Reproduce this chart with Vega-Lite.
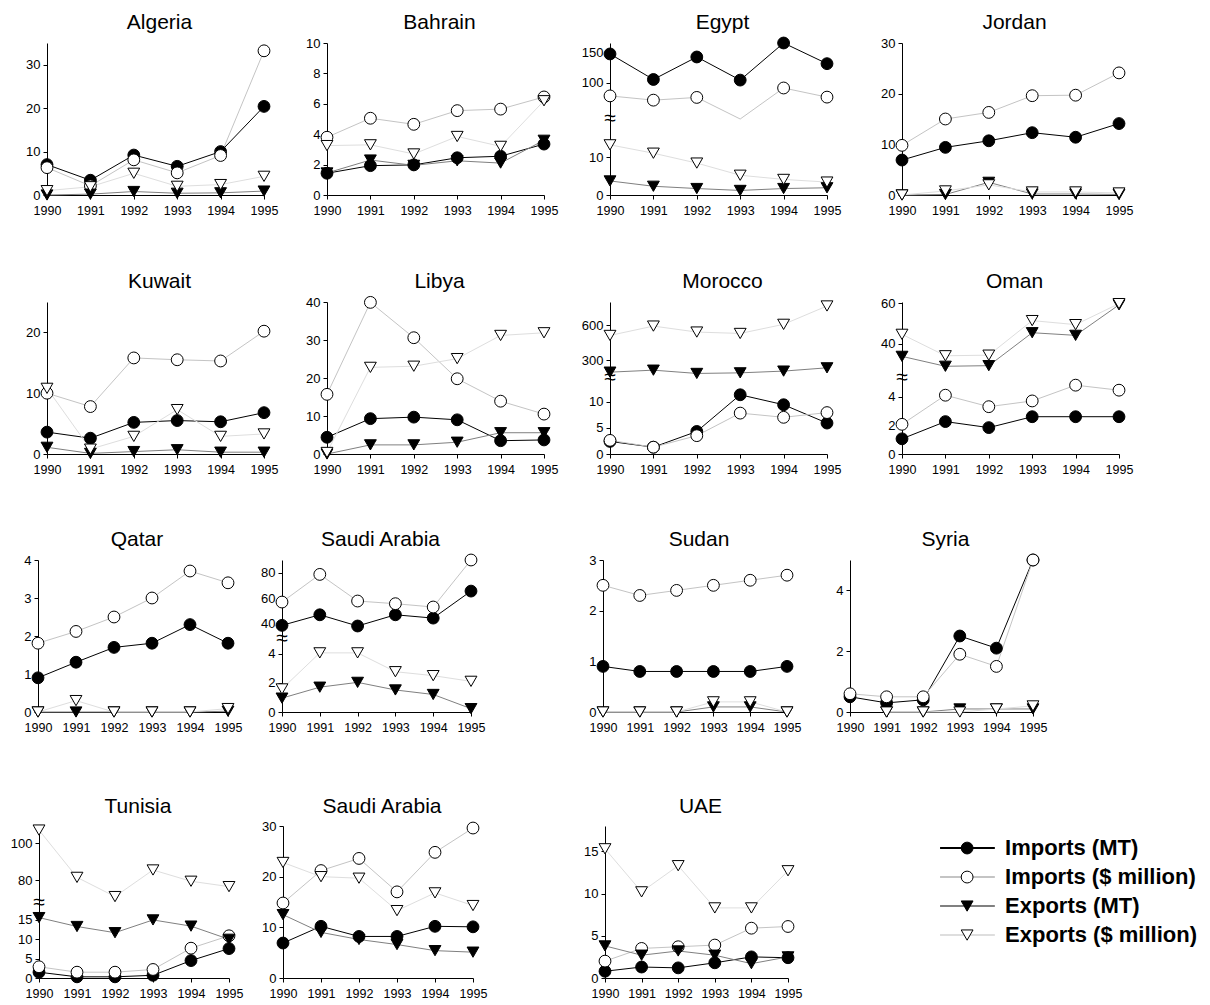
{
"$schema": "https://vega.github.io/schema/vega-lite/v6.json",
"padding": {"top": 11, "left": 0, "right": 0, "bottom": 0},
"spacing": 61,
"data": {"values": [
{"p":"Algeria","s":"im","yr":1990,"v":7},{"p":"Algeria","s":"im","yr":1991,"v":3.4},{"p":"Algeria","s":"im","yr":1992,"v":9.2},{"p":"Algeria","s":"im","yr":1993,"v":6.6},{"p":"Algeria","s":"im","yr":1994,"v":10},{"p":"Algeria","s":"im","yr":1995,"v":20.4},
{"p":"Algeria","s":"id","yr":1990,"v":6.3},{"p":"Algeria","s":"id","yr":1991,"v":2.1},{"p":"Algeria","s":"id","yr":1992,"v":8.1},{"p":"Algeria","s":"id","yr":1993,"v":5.1},{"p":"Algeria","s":"id","yr":1994,"v":9.1},{"p":"Algeria","s":"id","yr":1995,"v":33.2},
{"p":"Algeria","s":"em","yr":1990,"v":0},{"p":"Algeria","s":"em","yr":1991,"v":0.2},{"p":"Algeria","s":"em","yr":1992,"v":0.8},{"p":"Algeria","s":"em","yr":1993,"v":0.4},{"p":"Algeria","s":"em","yr":1994,"v":0.5},{"p":"Algeria","s":"em","yr":1995,"v":0.9},
{"p":"Algeria","s":"ed","yr":1990,"v":1},{"p":"Algeria","s":"ed","yr":1991,"v":1.9},{"p":"Algeria","s":"ed","yr":1992,"v":5},{"p":"Algeria","s":"ed","yr":1993,"v":2},{"p":"Algeria","s":"ed","yr":1994,"v":2.4},{"p":"Algeria","s":"ed","yr":1995,"v":4.3},
{"p":"Bahrain","s":"im","yr":1990,"v":1.43},{"p":"Bahrain","s":"im","yr":1991,"v":1.93},{"p":"Bahrain","s":"im","yr":1992,"v":1.98},{"p":"Bahrain","s":"im","yr":1993,"v":2.45},{"p":"Bahrain","s":"im","yr":1994,"v":2.55},{"p":"Bahrain","s":"im","yr":1995,"v":3.35},
{"p":"Bahrain","s":"id","yr":1990,"v":3.8},{"p":"Bahrain","s":"id","yr":1991,"v":5.05},{"p":"Bahrain","s":"id","yr":1992,"v":4.65},{"p":"Bahrain","s":"id","yr":1993,"v":5.55},{"p":"Bahrain","s":"id","yr":1994,"v":5.65},{"p":"Bahrain","s":"id","yr":1995,"v":6.45},
{"p":"Bahrain","s":"em","yr":1990,"v":1.45},{"p":"Bahrain","s":"em","yr":1991,"v":2.3},{"p":"Bahrain","s":"em","yr":1992,"v":1.95},{"p":"Bahrain","s":"em","yr":1993,"v":2.25},{"p":"Bahrain","s":"em","yr":1994,"v":2.1},{"p":"Bahrain","s":"em","yr":1995,"v":3.6},
{"p":"Bahrain","s":"ed","yr":1990,"v":3.25},{"p":"Bahrain","s":"ed","yr":1991,"v":3.3},{"p":"Bahrain","s":"ed","yr":1992,"v":2.7},{"p":"Bahrain","s":"ed","yr":1993,"v":3.85},{"p":"Bahrain","s":"ed","yr":1994,"v":3.2},{"p":"Bahrain","s":"ed","yr":1995,"v":6.2},
{"p":"Egypt","s":"im","yr":1990,"v":147},{"p":"Egypt","s":"im","yr":1991,"v":105},{"p":"Egypt","s":"im","yr":1992,"v":142},{"p":"Egypt","s":"im","yr":1993,"v":104},{"p":"Egypt","s":"im","yr":1994,"v":165},{"p":"Egypt","s":"im","yr":1995,"v":131},
{"p":"Egypt","s":"id","yr":1990,"v":78},{"p":"Egypt","s":"id","yr":1991,"v":71},{"p":"Egypt","s":"id","yr":1992,"v":75.5},{"p":"Egypt","s":"id","yr":1993,"v":38},{"p":"Egypt","s":"id","yr":1994,"v":91},{"p":"Egypt","s":"id","yr":1995,"v":76},
{"p":"Egypt","s":"em","yr":1990,"v":3.7},{"p":"Egypt","s":"em","yr":1991,"v":2.3},{"p":"Egypt","s":"em","yr":1992,"v":1.7},{"p":"Egypt","s":"em","yr":1993,"v":1.2},{"p":"Egypt","s":"em","yr":1994,"v":1.7},{"p":"Egypt","s":"em","yr":1995,"v":1.9},
{"p":"Egypt","s":"ed","yr":1990,"v":13.2},{"p":"Egypt","s":"ed","yr":1991,"v":11},{"p":"Egypt","s":"ed","yr":1992,"v":8.4},{"p":"Egypt","s":"ed","yr":1993,"v":5.2},{"p":"Egypt","s":"ed","yr":1994,"v":4.1},{"p":"Egypt","s":"ed","yr":1995,"v":3.4},
{"p":"Jordan","s":"im","yr":1990,"v":6.9},{"p":"Jordan","s":"im","yr":1991,"v":9.4},{"p":"Jordan","s":"im","yr":1992,"v":10.7},{"p":"Jordan","s":"im","yr":1993,"v":12.3},{"p":"Jordan","s":"im","yr":1994,"v":11.4},{"p":"Jordan","s":"im","yr":1995,"v":14.1},
{"p":"Jordan","s":"id","yr":1990,"v":9.8},{"p":"Jordan","s":"id","yr":1991,"v":15},{"p":"Jordan","s":"id","yr":1992,"v":16.3},{"p":"Jordan","s":"id","yr":1993,"v":19.6},{"p":"Jordan","s":"id","yr":1994,"v":19.7},{"p":"Jordan","s":"id","yr":1995,"v":24.1},
{"p":"Jordan","s":"em","yr":1990,"v":0},{"p":"Jordan","s":"em","yr":1991,"v":0.1},{"p":"Jordan","s":"em","yr":1992,"v":2.5},{"p":"Jordan","s":"em","yr":1993,"v":0.2},{"p":"Jordan","s":"em","yr":1994,"v":0.2},{"p":"Jordan","s":"em","yr":1995,"v":0.1},
{"p":"Jordan","s":"ed","yr":1990,"v":0},{"p":"Jordan","s":"ed","yr":1991,"v":0.8},{"p":"Jordan","s":"ed","yr":1992,"v":2},{"p":"Jordan","s":"ed","yr":1993,"v":0.6},{"p":"Jordan","s":"ed","yr":1994,"v":0.6},{"p":"Jordan","s":"ed","yr":1995,"v":0.4},
{"p":"Kuwait","s":"im","yr":1990,"v":3.6},{"p":"Kuwait","s":"im","yr":1991,"v":2.6},{"p":"Kuwait","s":"im","yr":1992,"v":5.2},{"p":"Kuwait","s":"im","yr":1993,"v":5.5},{"p":"Kuwait","s":"im","yr":1994,"v":5.3},{"p":"Kuwait","s":"im","yr":1995,"v":6.8},
{"p":"Kuwait","s":"id","yr":1990,"v":10},{"p":"Kuwait","s":"id","yr":1991,"v":7.8},{"p":"Kuwait","s":"id","yr":1992,"v":15.8},{"p":"Kuwait","s":"id","yr":1993,"v":15.5},{"p":"Kuwait","s":"id","yr":1994,"v":15.3},{"p":"Kuwait","s":"id","yr":1995,"v":20.2},
{"p":"Kuwait","s":"em","yr":1990,"v":1.1},{"p":"Kuwait","s":"em","yr":1991,"v":0.1},{"p":"Kuwait","s":"em","yr":1992,"v":0.4},{"p":"Kuwait","s":"em","yr":1993,"v":0.7},{"p":"Kuwait","s":"em","yr":1994,"v":0.3},{"p":"Kuwait","s":"em","yr":1995,"v":0.3},
{"p":"Kuwait","s":"ed","yr":1990,"v":10.8},{"p":"Kuwait","s":"ed","yr":1991,"v":0.8},{"p":"Kuwait","s":"ed","yr":1992,"v":2.9},{"p":"Kuwait","s":"ed","yr":1993,"v":7.3},{"p":"Kuwait","s":"ed","yr":1994,"v":2.9},{"p":"Kuwait","s":"ed","yr":1995,"v":3.3},
{"p":"Libya","s":"im","yr":1990,"v":4.4},{"p":"Libya","s":"im","yr":1991,"v":9.3},{"p":"Libya","s":"im","yr":1992,"v":9.7},{"p":"Libya","s":"im","yr":1993,"v":9},{"p":"Libya","s":"im","yr":1994,"v":3.5},{"p":"Libya","s":"im","yr":1995,"v":3.7},
{"p":"Libya","s":"id","yr":1990,"v":15.7},{"p":"Libya","s":"id","yr":1991,"v":39.9},{"p":"Libya","s":"id","yr":1992,"v":30.6},{"p":"Libya","s":"id","yr":1993,"v":19.8},{"p":"Libya","s":"id","yr":1994,"v":13.9},{"p":"Libya","s":"id","yr":1995,"v":10.5},
{"p":"Libya","s":"em","yr":1990,"v":0},{"p":"Libya","s":"em","yr":1991,"v":2.4},{"p":"Libya","s":"em","yr":1992,"v":2.4},{"p":"Libya","s":"em","yr":1993,"v":3.1},{"p":"Libya","s":"em","yr":1994,"v":5.6},{"p":"Libya","s":"em","yr":1995,"v":5.6},
{"p":"Libya","s":"ed","yr":1990,"v":0.4},{"p":"Libya","s":"ed","yr":1991,"v":22.8},{"p":"Libya","s":"ed","yr":1992,"v":23.1},{"p":"Libya","s":"ed","yr":1993,"v":25.1},{"p":"Libya","s":"ed","yr":1994,"v":31.2},{"p":"Libya","s":"ed","yr":1995,"v":31.9},
{"p":"Morocco","s":"im","yr":1990,"v":2.4},{"p":"Morocco","s":"im","yr":1991,"v":1.3},{"p":"Morocco","s":"im","yr":1992,"v":4.3},{"p":"Morocco","s":"im","yr":1993,"v":11.3},{"p":"Morocco","s":"im","yr":1994,"v":9.4},{"p":"Morocco","s":"im","yr":1995,"v":5.9},
{"p":"Morocco","s":"id","yr":1990,"v":2.6},{"p":"Morocco","s":"id","yr":1991,"v":1.3},{"p":"Morocco","s":"id","yr":1992,"v":3.5},{"p":"Morocco","s":"id","yr":1993,"v":7.8},{"p":"Morocco","s":"id","yr":1994,"v":7},{"p":"Morocco","s":"id","yr":1995,"v":7.9},
{"p":"Morocco","s":"em","yr":1990,"v":200},{"p":"Morocco","s":"em","yr":1991,"v":217},{"p":"Morocco","s":"em","yr":1992,"v":189},{"p":"Morocco","s":"em","yr":1993,"v":194},{"p":"Morocco","s":"em","yr":1994,"v":209},{"p":"Morocco","s":"em","yr":1995,"v":237},
{"p":"Morocco","s":"ed","yr":1990,"v":514},{"p":"Morocco","s":"ed","yr":1991,"v":594},{"p":"Morocco","s":"ed","yr":1992,"v":543},{"p":"Morocco","s":"ed","yr":1993,"v":531},{"p":"Morocco","s":"ed","yr":1994,"v":609},{"p":"Morocco","s":"ed","yr":1995,"v":766},
{"p":"Oman","s":"im","yr":1990,"v":1.06},{"p":"Oman","s":"im","yr":1991,"v":2.26},{"p":"Oman","s":"im","yr":1992,"v":1.84},{"p":"Oman","s":"im","yr":1993,"v":2.6},{"p":"Oman","s":"im","yr":1994,"v":2.6},{"p":"Oman","s":"im","yr":1995,"v":2.6},
{"p":"Oman","s":"id","yr":1990,"v":2.07},{"p":"Oman","s":"id","yr":1991,"v":4.1},{"p":"Oman","s":"id","yr":1992,"v":3.3},{"p":"Oman","s":"id","yr":1993,"v":3.7},{"p":"Oman","s":"id","yr":1994,"v":4.8},{"p":"Oman","s":"id","yr":1995,"v":4.45},
{"p":"Oman","s":"em","yr":1990,"v":33.7},{"p":"Oman","s":"em","yr":1991,"v":28.8},{"p":"Oman","s":"em","yr":1992,"v":29.1},{"p":"Oman","s":"em","yr":1993,"v":45.4},{"p":"Oman","s":"em","yr":1994,"v":44.1},{"p":"Oman","s":"em","yr":1995,"v":59.2},
{"p":"Oman","s":"ed","yr":1990,"v":44.6},{"p":"Oman","s":"ed","yr":1991,"v":34},{"p":"Oman","s":"ed","yr":1992,"v":34.3},{"p":"Oman","s":"ed","yr":1993,"v":51.4},{"p":"Oman","s":"ed","yr":1994,"v":49.4},{"p":"Oman","s":"ed","yr":1995,"v":59.8},
{"p":"Qatar","s":"im","yr":1990,"v":0.9},{"p":"Qatar","s":"im","yr":1991,"v":1.31},{"p":"Qatar","s":"im","yr":1992,"v":1.7},{"p":"Qatar","s":"im","yr":1993,"v":1.81},{"p":"Qatar","s":"im","yr":1994,"v":2.3},{"p":"Qatar","s":"im","yr":1995,"v":1.81},
{"p":"Qatar","s":"id","yr":1990,"v":1.81},{"p":"Qatar","s":"id","yr":1991,"v":2.12},{"p":"Qatar","s":"id","yr":1992,"v":2.5},{"p":"Qatar","s":"id","yr":1993,"v":3},{"p":"Qatar","s":"id","yr":1994,"v":3.71},{"p":"Qatar","s":"id","yr":1995,"v":3.4},
{"p":"Qatar","s":"em","yr":1990,"v":0},{"p":"Qatar","s":"em","yr":1991,"v":0},{"p":"Qatar","s":"em","yr":1992,"v":0},{"p":"Qatar","s":"em","yr":1993,"v":0},{"p":"Qatar","s":"em","yr":1994,"v":0},{"p":"Qatar","s":"em","yr":1995,"v":0.02},
{"p":"Qatar","s":"ed","yr":1990,"v":0},{"p":"Qatar","s":"ed","yr":1991,"v":0.3},{"p":"Qatar","s":"ed","yr":1992,"v":0},{"p":"Qatar","s":"ed","yr":1993,"v":0},{"p":"Qatar","s":"ed","yr":1994,"v":0},{"p":"Qatar","s":"ed","yr":1995,"v":0.09},
{"p":"Saudi Arabia","s":"im","yr":1990,"v":38.7},{"p":"Saudi Arabia","s":"im","yr":1991,"v":47},{"p":"Saudi Arabia","s":"im","yr":1992,"v":38.2},{"p":"Saudi Arabia","s":"im","yr":1993,"v":47},{"p":"Saudi Arabia","s":"im","yr":1994,"v":44.4},{"p":"Saudi Arabia","s":"im","yr":1995,"v":65.6},
{"p":"Saudi Arabia","s":"id","yr":1990,"v":57},{"p":"Saudi Arabia","s":"id","yr":1991,"v":78.7},{"p":"Saudi Arabia","s":"id","yr":1992,"v":57.8},{"p":"Saudi Arabia","s":"id","yr":1993,"v":55.7},{"p":"Saudi Arabia","s":"id","yr":1994,"v":53.1},{"p":"Saudi Arabia","s":"id","yr":1995,"v":90},
{"p":"Saudi Arabia","s":"em","yr":1990,"v":0.95},{"p":"Saudi Arabia","s":"em","yr":1991,"v":1.7},{"p":"Saudi Arabia","s":"em","yr":1992,"v":2.03},{"p":"Saudi Arabia","s":"em","yr":1993,"v":1.51},{"p":"Saudi Arabia","s":"em","yr":1994,"v":1.2},{"p":"Saudi Arabia","s":"em","yr":1995,"v":0.23},
{"p":"Saudi Arabia","s":"ed","yr":1990,"v":1.58},{"p":"Saudi Arabia","s":"ed","yr":1991,"v":4.05},{"p":"Saudi Arabia","s":"ed","yr":1992,"v":4.05},{"p":"Saudi Arabia","s":"ed","yr":1993,"v":2.76},{"p":"Saudi Arabia","s":"ed","yr":1994,"v":2.49},{"p":"Saudi Arabia","s":"ed","yr":1995,"v":2.1},
{"p":"Sudan","s":"im","yr":1990,"v":0.9},{"p":"Sudan","s":"im","yr":1991,"v":0.8},{"p":"Sudan","s":"im","yr":1992,"v":0.8},{"p":"Sudan","s":"im","yr":1993,"v":0.8},{"p":"Sudan","s":"im","yr":1994,"v":0.8},{"p":"Sudan","s":"im","yr":1995,"v":0.9},
{"p":"Sudan","s":"id","yr":1990,"v":2.5},{"p":"Sudan","s":"id","yr":1991,"v":2.3},{"p":"Sudan","s":"id","yr":1992,"v":2.4},{"p":"Sudan","s":"id","yr":1993,"v":2.5},{"p":"Sudan","s":"id","yr":1994,"v":2.6},{"p":"Sudan","s":"id","yr":1995,"v":2.7},
{"p":"Sudan","s":"em","yr":1990,"v":0},{"p":"Sudan","s":"em","yr":1991,"v":0},{"p":"Sudan","s":"em","yr":1992,"v":0},{"p":"Sudan","s":"em","yr":1993,"v":0.1},{"p":"Sudan","s":"em","yr":1994,"v":0.1},{"p":"Sudan","s":"em","yr":1995,"v":0},
{"p":"Sudan","s":"ed","yr":1990,"v":0},{"p":"Sudan","s":"ed","yr":1991,"v":0},{"p":"Sudan","s":"ed","yr":1992,"v":0},{"p":"Sudan","s":"ed","yr":1993,"v":0.2},{"p":"Sudan","s":"ed","yr":1994,"v":0.2},{"p":"Sudan","s":"ed","yr":1995,"v":0},
{"p":"Syria","s":"im","yr":1990,"v":0.5},{"p":"Syria","s":"im","yr":1991,"v":0.3},{"p":"Syria","s":"im","yr":1992,"v":0.4},{"p":"Syria","s":"im","yr":1993,"v":2.5},{"p":"Syria","s":"im","yr":1994,"v":2.1},{"p":"Syria","s":"im","yr":1995,"v":5},
{"p":"Syria","s":"id","yr":1990,"v":0.6},{"p":"Syria","s":"id","yr":1991,"v":0.5},{"p":"Syria","s":"id","yr":1992,"v":0.5},{"p":"Syria","s":"id","yr":1993,"v":1.9},{"p":"Syria","s":"id","yr":1994,"v":1.5},{"p":"Syria","s":"id","yr":1995,"v":5},
{"p":"Syria","s":"em","yr":1991,"v":0},{"p":"Syria","s":"em","yr":1992,"v":0},{"p":"Syria","s":"em","yr":1993,"v":0.1},{"p":"Syria","s":"em","yr":1994,"v":0.1},{"p":"Syria","s":"em","yr":1995,"v":0.1},
{"p":"Syria","s":"ed","yr":1991,"v":0},{"p":"Syria","s":"ed","yr":1992,"v":0},{"p":"Syria","s":"ed","yr":1993,"v":0},{"p":"Syria","s":"ed","yr":1994,"v":0.1},{"p":"Syria","s":"ed","yr":1995,"v":0.2},
{"p":"Tunisia","s":"im","yr":1990,"v":1.5},{"p":"Tunisia","s":"im","yr":1991,"v":0.3},{"p":"Tunisia","s":"im","yr":1992,"v":0.3},{"p":"Tunisia","s":"im","yr":1993,"v":0.7},{"p":"Tunisia","s":"im","yr":1994,"v":4.5},{"p":"Tunisia","s":"im","yr":1995,"v":7.6},
{"p":"Tunisia","s":"id","yr":1990,"v":2.9},{"p":"Tunisia","s":"id","yr":1991,"v":1.5},{"p":"Tunisia","s":"id","yr":1992,"v":1.5},{"p":"Tunisia","s":"id","yr":1993,"v":2.2},{"p":"Tunisia","s":"id","yr":1994,"v":7.7},{"p":"Tunisia","s":"id","yr":1995,"v":10.9},
{"p":"Tunisia","s":"em","yr":1990,"v":15.6},{"p":"Tunisia","s":"em","yr":1991,"v":13.3},{"p":"Tunisia","s":"em","yr":1992,"v":11.7},{"p":"Tunisia","s":"em","yr":1993,"v":15},{"p":"Tunisia","s":"em","yr":1994,"v":13.4},{"p":"Tunisia","s":"em","yr":1995,"v":10},
{"p":"Tunisia","s":"ed","yr":1990,"v":107.2},{"p":"Tunisia","s":"ed","yr":1991,"v":81.6},{"p":"Tunisia","s":"ed","yr":1992,"v":71.2},{"p":"Tunisia","s":"ed","yr":1993,"v":85.6},{"p":"Tunisia","s":"ed","yr":1994,"v":79.5},{"p":"Tunisia","s":"ed","yr":1995,"v":76.6},
{"p":"Saudi Arabia 2","s":"im","yr":1990,"v":6.9},{"p":"Saudi Arabia 2","s":"im","yr":1991,"v":10.2},{"p":"Saudi Arabia 2","s":"im","yr":1992,"v":8.2},{"p":"Saudi Arabia 2","s":"im","yr":1993,"v":8.2},{"p":"Saudi Arabia 2","s":"im","yr":1994,"v":10.2},{"p":"Saudi Arabia 2","s":"im","yr":1995,"v":10.1},
{"p":"Saudi Arabia 2","s":"id","yr":1990,"v":14.8},{"p":"Saudi Arabia 2","s":"id","yr":1991,"v":21.2},{"p":"Saudi Arabia 2","s":"id","yr":1992,"v":23.6},{"p":"Saudi Arabia 2","s":"id","yr":1993,"v":17},{"p":"Saudi Arabia 2","s":"id","yr":1994,"v":24.8},{"p":"Saudi Arabia 2","s":"id","yr":1995,"v":29.6},
{"p":"Saudi Arabia 2","s":"em","yr":1990,"v":12.5},{"p":"Saudi Arabia 2","s":"em","yr":1991,"v":9},{"p":"Saudi Arabia 2","s":"em","yr":1992,"v":7.6},{"p":"Saudi Arabia 2","s":"em","yr":1993,"v":6.6},{"p":"Saudi Arabia 2","s":"em","yr":1994,"v":5.4},{"p":"Saudi Arabia 2","s":"em","yr":1995,"v":5.1},
{"p":"Saudi Arabia 2","s":"ed","yr":1990,"v":22.8},{"p":"Saudi Arabia 2","s":"ed","yr":1991,"v":20},{"p":"Saudi Arabia 2","s":"ed","yr":1992,"v":19.7},{"p":"Saudi Arabia 2","s":"ed","yr":1993,"v":13.3},{"p":"Saudi Arabia 2","s":"ed","yr":1994,"v":16.8},{"p":"Saudi Arabia 2","s":"ed","yr":1995,"v":14.3},
{"p":"UAE","s":"im","yr":1990,"v":0.8},{"p":"UAE","s":"im","yr":1991,"v":1.3},{"p":"UAE","s":"im","yr":1992,"v":1.2},{"p":"UAE","s":"im","yr":1993,"v":1.8},{"p":"UAE","s":"im","yr":1994,"v":2.5},{"p":"UAE","s":"im","yr":1995,"v":2.4},
{"p":"UAE","s":"id","yr":1990,"v":2},{"p":"UAE","s":"id","yr":1991,"v":3.5},{"p":"UAE","s":"id","yr":1992,"v":3.7},{"p":"UAE","s":"id","yr":1993,"v":3.9},{"p":"UAE","s":"id","yr":1994,"v":5.9},{"p":"UAE","s":"id","yr":1995,"v":6.1},
{"p":"UAE","s":"em","yr":1990,"v":3.8},{"p":"UAE","s":"em","yr":1991,"v":2.7},{"p":"UAE","s":"em","yr":1992,"v":3.2},{"p":"UAE","s":"em","yr":1993,"v":2.7},{"p":"UAE","s":"em","yr":1994,"v":1.7},{"p":"UAE","s":"em","yr":1995,"v":2.5},
{"p":"UAE","s":"ed","yr":1990,"v":15.3},{"p":"UAE","s":"ed","yr":1991,"v":10.2},{"p":"UAE","s":"ed","yr":1992,"v":13.3},{"p":"UAE","s":"ed","yr":1993,"v":8.3},{"p":"UAE","s":"ed","yr":1994,"v":8.3},{"p":"UAE","s":"ed","yr":1995,"v":12.7}
]},
"vconcat": [
{"spacing": 53, "vconcat": [
{"hconcat": [
{"width":47,"height":152,"data":{"values":[{}]},"mark":{"type":"rect","opacity":0},"encoding":{}},
{"width":217,"height":152,"title":{"text":"Algeria","dy":-3},
 "encoding":{"x":{"field":"yr","type":"quantitative","scale":{"domain":[1990,1995],"nice":false,"zero":false},"axis":{"values":[1990,1991,1992,1993,1994,1995],"format":"d","title":null}},
  "y":{"field":"v","type":"quantitative","scale":{"domain":[0,35],"nice":false,"zero":false},"axis":{"values":[0,10,20,30],"title":null}}},
 "layer":[
  {"transform":[{"filter":"datum.p==='Algeria'"}],"mark":{"type":"line","strokeWidth":1},"encoding":{"color":{"field":"s","type":"nominal","scale":{"domain":["im","id","em","ed"],"range":["#000000","#c4c4c4","#808080","#dedede"]},"legend":null}}},
  {"transform":[{"filter":"datum.p==='Algeria'"}],"mark":{"type":"point","filled":true,"size":140,"stroke":"#000","strokeWidth":1,"opacity":1},"encoding":{"shape":{"field":"s","type":"nominal","scale":{"domain":["im","id","em","ed"],"range":["circle","circle","triangle-down","triangle-down"]},"legend":null},"fill":{"field":"s","type":"nominal","scale":{"domain":["im","id","em","ed"],"range":["#000000","#ffffff","#000000","#ffffff"]},"legend":null}}}
 ]},
{"width":63,"height":152,"data":{"values":[{}]},"mark":{"type":"rect","opacity":0},"encoding":{}},
{"width":217,"height":152,"title":{"text":"Bahrain","dy":3},
 "encoding":{"x":{"field":"yr","type":"quantitative","scale":{"domain":[1990,1995],"nice":false,"zero":false},"axis":{"values":[1990,1991,1992,1993,1994,1995],"format":"d","title":null}},
  "y":{"field":"v","type":"quantitative","scale":{"domain":[0,10],"nice":false,"zero":false},"axis":{"values":[0,2,4,6,8,10],"title":null}}},
 "layer":[
  {"transform":[{"filter":"datum.p==='Bahrain'"}],"mark":{"type":"line","strokeWidth":1},"encoding":{"color":{"field":"s","type":"nominal","scale":{"domain":["im","id","em","ed"],"range":["#000000","#c4c4c4","#808080","#dedede"]},"legend":null}}},
  {"transform":[{"filter":"datum.p==='Bahrain'"}],"mark":{"type":"point","filled":true,"size":140,"stroke":"#000","strokeWidth":1,"opacity":1},"encoding":{"shape":{"field":"s","type":"nominal","scale":{"domain":["im","id","em","ed"],"range":["circle","circle","triangle-down","triangle-down"]},"legend":null},"fill":{"field":"s","type":"nominal","scale":{"domain":["im","id","em","ed"],"range":["#000000","#ffffff","#000000","#ffffff"]},"legend":null}}}
 ]},
{"width":66,"height":152,"data":{"values":[{}]},"mark":{"type":"rect","opacity":0},"encoding":{}},
{"width":217,"height":152,"title":{"text":"Egypt","dy":5},
 "encoding":{"x":{"field":"yr","type":"quantitative","scale":{"domain":[1990,1995],"nice":false,"zero":false},"axis":{"values":[1990,1991,1992,1993,1994,1995],"format":"d","title":null}},
  "y":{"field":"v","type":"quantitative","scale":{"domain":[0,20,40,165],"range":[152,76,76,0],"nice":false,"zero":false},"axis":{"values":[0,10,100,150],"title":null}}},
 "layer":[
  {"transform":[{"filter":"datum.p==='Egypt'"}],"mark":{"type":"line","strokeWidth":1},"encoding":{"color":{"field":"s","type":"nominal","scale":{"domain":["im","id","em","ed"],"range":["#000000","#c4c4c4","#808080","#dedede"]},"legend":null}}},
  {"transform":[{"filter":"datum.p==='Egypt' && (datum.v <= 20 || datum.v >= 40)"}],"mark":{"type":"point","filled":true,"size":140,"stroke":"#000","strokeWidth":1,"opacity":1},"encoding":{"shape":{"field":"s","type":"nominal","scale":{"domain":["im","id","em","ed"],"range":["circle","circle","triangle-down","triangle-down"]},"legend":null},"fill":{"field":"s","type":"nominal","scale":{"domain":["im","id","em","ed"],"range":["#000000","#ffffff","#000000","#ffffff"]},"legend":null}}},
  {"data":{"values":[{"yr":1990,"v":30}]},"mark":{"type":"text","text":"≈","fontSize":21,"fill":"#000","baseline":"middle","align":"center"}}
 ]},
{"width":75,"height":152,"data":{"values":[{}]},"mark":{"type":"rect","opacity":0},"encoding":{}},
{"width":217,"height":152,"title":{"text":"Jordan","dy":3},
 "encoding":{"x":{"field":"yr","type":"quantitative","scale":{"domain":[1990,1995],"nice":false,"zero":false},"axis":{"values":[1990,1991,1992,1993,1994,1995],"format":"d","title":null}},
  "y":{"field":"v","type":"quantitative","scale":{"domain":[0,30],"nice":false,"zero":false},"axis":{"values":[0,10,20,30],"title":null}}},
 "layer":[
  {"transform":[{"filter":"datum.p==='Jordan'"}],"mark":{"type":"line","strokeWidth":1},"encoding":{"color":{"field":"s","type":"nominal","scale":{"domain":["im","id","em","ed"],"range":["#000000","#c4c4c4","#808080","#dedede"]},"legend":null}}},
  {"transform":[{"filter":"datum.p==='Jordan'"}],"mark":{"type":"point","filled":true,"size":140,"stroke":"#000","strokeWidth":1,"opacity":1},"encoding":{"shape":{"field":"s","type":"nominal","scale":{"domain":["im","id","em","ed"],"range":["circle","circle","triangle-down","triangle-down"]},"legend":null},"fill":{"field":"s","type":"nominal","scale":{"domain":["im","id","em","ed"],"range":["#000000","#ffffff","#000000","#ffffff"]},"legend":null}}}
 ]}
], "spacing": 0, "bounds": "flush"},

{"hconcat": [
{"width":47,"height":152,"data":{"values":[{}]},"mark":{"type":"rect","opacity":0},"encoding":{}},
{"width":217,"height":152,"title":{"text":"Kuwait","dy":-3},
 "encoding":{"x":{"field":"yr","type":"quantitative","scale":{"domain":[1990,1995],"nice":false,"zero":false},"axis":{"values":[1990,1991,1992,1993,1994,1995],"format":"d","title":null}},
  "y":{"field":"v","type":"quantitative","scale":{"domain":[0,25],"nice":false,"zero":false},"axis":{"values":[0,10,20],"title":null}}},
 "layer":[
  {"transform":[{"filter":"datum.p==='Kuwait'"}],"mark":{"type":"line","strokeWidth":1},"encoding":{"color":{"field":"s","type":"nominal","scale":{"domain":["im","id","em","ed"],"range":["#000000","#c4c4c4","#808080","#dedede"]},"legend":null}}},
  {"transform":[{"filter":"datum.p==='Kuwait'"}],"mark":{"type":"point","filled":true,"size":140,"stroke":"#000","strokeWidth":1,"opacity":1},"encoding":{"shape":{"field":"s","type":"nominal","scale":{"domain":["im","id","em","ed"],"range":["circle","circle","triangle-down","triangle-down"]},"legend":null},"fill":{"field":"s","type":"nominal","scale":{"domain":["im","id","em","ed"],"range":["#000000","#ffffff","#000000","#ffffff"]},"legend":null}}}
 ]},
{"width":63,"height":152,"data":{"values":[{}]},"mark":{"type":"rect","opacity":0},"encoding":{}},
{"width":217,"height":152,"title":{"text":"Libya","dy":5},
 "encoding":{"x":{"field":"yr","type":"quantitative","scale":{"domain":[1990,1995],"nice":false,"zero":false},"axis":{"values":[1990,1991,1992,1993,1994,1995],"format":"d","title":null}},
  "y":{"field":"v","type":"quantitative","scale":{"domain":[0,40],"nice":false,"zero":false},"axis":{"values":[0,10,20,30,40],"title":null}}},
 "layer":[
  {"transform":[{"filter":"datum.p==='Libya'"}],"mark":{"type":"line","strokeWidth":1},"encoding":{"color":{"field":"s","type":"nominal","scale":{"domain":["im","id","em","ed"],"range":["#000000","#c4c4c4","#808080","#dedede"]},"legend":null}}},
  {"transform":[{"filter":"datum.p==='Libya'"}],"mark":{"type":"point","filled":true,"size":140,"stroke":"#000","strokeWidth":1,"opacity":1},"encoding":{"shape":{"field":"s","type":"nominal","scale":{"domain":["im","id","em","ed"],"range":["circle","circle","triangle-down","triangle-down"]},"legend":null},"fill":{"field":"s","type":"nominal","scale":{"domain":["im","id","em","ed"],"range":["#000000","#ffffff","#000000","#ffffff"]},"legend":null}}}
 ]},
{"width":66,"height":152,"data":{"values":[{}]},"mark":{"type":"rect","opacity":0},"encoding":{}},
{"width":217,"height":152,"title":{"text":"Morocco","dy":0},
 "encoding":{"x":{"field":"yr","type":"quantitative","scale":{"domain":[1990,1995],"nice":false,"zero":false},"axis":{"values":[1990,1991,1992,1993,1994,1995],"format":"d","title":null}},
  "y":{"field":"v","type":"quantitative","scale":{"domain":[0,14.5,150,800],"range":[152,76,76,0],"nice":false,"zero":false},"axis":{"values":[0,5,10,300,600],"title":null}}},
 "layer":[
  {"transform":[{"filter":"datum.p==='Morocco'"}],"mark":{"type":"line","strokeWidth":1},"encoding":{"color":{"field":"s","type":"nominal","scale":{"domain":["im","id","em","ed"],"range":["#000000","#c4c4c4","#808080","#dedede"]},"legend":null}}},
  {"transform":[{"filter":"datum.p==='Morocco'"}],"mark":{"type":"point","filled":true,"size":140,"stroke":"#000","strokeWidth":1,"opacity":1},"encoding":{"shape":{"field":"s","type":"nominal","scale":{"domain":["im","id","em","ed"],"range":["circle","circle","triangle-down","triangle-down"]},"legend":null},"fill":{"field":"s","type":"nominal","scale":{"domain":["im","id","em","ed"],"range":["#000000","#ffffff","#000000","#ffffff"]},"legend":null}}},
  {"data":{"values":[{"yr":1990,"v":80}]},"mark":{"type":"text","text":"≈","fontSize":21,"fill":"#000","baseline":"middle","align":"center"}}
 ]},
{"width":75,"height":152,"data":{"values":[{}]},"mark":{"type":"rect","opacity":0},"encoding":{}},
{"width":217,"height":152,"title":{"text":"Oman","dy":3},
 "encoding":{"x":{"field":"yr","type":"quantitative","scale":{"domain":[1990,1995],"nice":false,"zero":false},"axis":{"values":[1990,1991,1992,1993,1994,1995],"format":"d","title":null}},
  "y":{"field":"v","type":"quantitative","scale":{"domain":[0,5.3,23,60.6],"range":[152,76,76,0],"nice":false,"zero":false},"axis":{"values":[0,2,4,40,60],"title":null}}},
 "layer":[
  {"transform":[{"filter":"datum.p==='Oman'"}],"mark":{"type":"line","strokeWidth":1},"encoding":{"color":{"field":"s","type":"nominal","scale":{"domain":["im","id","em","ed"],"range":["#000000","#c4c4c4","#808080","#dedede"]},"legend":null}}},
  {"transform":[{"filter":"datum.p==='Oman'"}],"mark":{"type":"point","filled":true,"size":140,"stroke":"#000","strokeWidth":1,"opacity":1},"encoding":{"shape":{"field":"s","type":"nominal","scale":{"domain":["im","id","em","ed"],"range":["circle","circle","triangle-down","triangle-down"]},"legend":null},"fill":{"field":"s","type":"nominal","scale":{"domain":["im","id","em","ed"],"range":["#000000","#ffffff","#000000","#ffffff"]},"legend":null}}},
  {"data":{"values":[{"yr":1990,"v":14}]},"mark":{"type":"text","text":"≈","fontSize":21,"fill":"#000","baseline":"middle","align":"center"}}
 ]}
], "spacing": 0, "bounds": "flush"},

{"hconcat": [
{"width":38,"height":152,"data":{"values":[{}]},"mark":{"type":"rect","opacity":0},"encoding":{}},
{"width":190,"height":152,"title":{"text":"Qatar","dy":3},
 "encoding":{"x":{"field":"yr","type":"quantitative","scale":{"domain":[1990,1995],"nice":false,"zero":false},"axis":{"values":[1990,1991,1992,1993,1994,1995],"format":"d","title":null}},
  "y":{"field":"v","type":"quantitative","scale":{"domain":[0,4],"nice":false,"zero":false},"axis":{"values":[0,1,2,3,4],"title":null}}},
 "layer":[
  {"transform":[{"filter":"datum.p==='Qatar'"}],"mark":{"type":"line","strokeWidth":1},"encoding":{"color":{"field":"s","type":"nominal","scale":{"domain":["im","id","em","ed"],"range":["#000000","#c4c4c4","#808080","#dedede"]},"legend":null}}},
  {"transform":[{"filter":"datum.p==='Qatar'"}],"mark":{"type":"point","filled":true,"size":140,"stroke":"#000","strokeWidth":1,"opacity":1},"encoding":{"shape":{"field":"s","type":"nominal","scale":{"domain":["im","id","em","ed"],"range":["circle","circle","triangle-down","triangle-down"]},"legend":null},"fill":{"field":"s","type":"nominal","scale":{"domain":["im","id","em","ed"],"range":["#000000","#ffffff","#000000","#ffffff"]},"legend":null}}}
 ]},
{"width":54,"height":152,"data":{"values":[{}]},"mark":{"type":"rect","opacity":0},"encoding":{}},
{"width":189,"height":152,"title":{"text":"Saudi Arabia","dy":5},
 "encoding":{"x":{"field":"yr","type":"quantitative","scale":{"domain":[1990,1995],"nice":false,"zero":false},"axis":{"values":[1990,1991,1992,1993,1994,1995],"format":"d","title":null}},
  "y":{"field":"v","type":"quantitative","scale":{"domain":[0,5,28,90],"range":[152,79,79,0],"nice":false,"zero":false},"axis":{"values":[0,2,4,40,60,80],"title":null}}},
 "layer":[
  {"transform":[{"filter":"datum.p==='Saudi Arabia'"}],"mark":{"type":"line","strokeWidth":1},"encoding":{"color":{"field":"s","type":"nominal","scale":{"domain":["im","id","em","ed"],"range":["#000000","#c4c4c4","#808080","#dedede"]},"legend":null}}},
  {"transform":[{"filter":"datum.p==='Saudi Arabia'"}],"mark":{"type":"point","filled":true,"size":140,"stroke":"#000","strokeWidth":1,"opacity":1},"encoding":{"shape":{"field":"s","type":"nominal","scale":{"domain":["im","id","em","ed"],"range":["circle","circle","triangle-down","triangle-down"]},"legend":null},"fill":{"field":"s","type":"nominal","scale":{"domain":["im","id","em","ed"],"range":["#000000","#ffffff","#000000","#ffffff"]},"legend":null}}},
  {"data":{"values":[{"yr":1990,"v":16}]},"mark":{"type":"text","text":"≈","fontSize":21,"fill":"#000","baseline":"middle","align":"center"}}
 ]},
{"width":132,"height":152,"data":{"values":[{}]},"mark":{"type":"rect","opacity":0},"encoding":{}},
{"width":184,"height":152,"title":{"text":"Sudan","dy":3},
 "encoding":{"x":{"field":"yr","type":"quantitative","scale":{"domain":[1990,1995],"nice":false,"zero":false},"axis":{"values":[1990,1991,1992,1993,1994,1995],"format":"d","title":null}},
  "y":{"field":"v","type":"quantitative","scale":{"domain":[0,3],"nice":false,"zero":false},"axis":{"values":[0,1,2,3],"title":null}}},
 "layer":[
  {"transform":[{"filter":"datum.p==='Sudan'"}],"mark":{"type":"line","strokeWidth":1},"encoding":{"color":{"field":"s","type":"nominal","scale":{"domain":["im","id","em","ed"],"range":["#000000","#c4c4c4","#808080","#dedede"]},"legend":null}}},
  {"transform":[{"filter":"datum.p==='Sudan'"}],"mark":{"type":"point","filled":true,"size":140,"stroke":"#000","strokeWidth":1,"opacity":1},"encoding":{"shape":{"field":"s","type":"nominal","scale":{"domain":["im","id","em","ed"],"range":["circle","circle","triangle-down","triangle-down"]},"legend":null},"fill":{"field":"s","type":"nominal","scale":{"domain":["im","id","em","ed"],"range":["#000000","#ffffff","#000000","#ffffff"]},"legend":null}}}
 ]},
{"width":63,"height":152,"data":{"values":[{}]},"mark":{"type":"rect","opacity":0},"encoding":{}},
{"width":183,"height":152,"title":{"text":"Syria","dy":5},
 "encoding":{"x":{"field":"yr","type":"quantitative","scale":{"domain":[1990,1995],"nice":false,"zero":false},"axis":{"values":[1990,1991,1992,1993,1994,1995],"format":"d","title":null}},
  "y":{"field":"v","type":"quantitative","scale":{"domain":[0,5],"nice":false,"zero":false},"axis":{"values":[0,2,4],"title":null}}},
 "layer":[
  {"transform":[{"filter":"datum.p==='Syria'"}],"mark":{"type":"line","strokeWidth":1},"encoding":{"color":{"field":"s","type":"nominal","scale":{"domain":["im","id","em","ed"],"range":["#000000","#c4c4c4","#808080","#dedede"]},"legend":null}}},
  {"transform":[{"filter":"datum.p==='Syria'"}],"mark":{"type":"point","filled":true,"size":140,"stroke":"#000","strokeWidth":1,"opacity":1},"encoding":{"shape":{"field":"s","type":"nominal","scale":{"domain":["im","id","em","ed"],"range":["circle","circle","triangle-down","triangle-down"]},"legend":null},"fill":{"field":"s","type":"nominal","scale":{"domain":["im","id","em","ed"],"range":["#000000","#ffffff","#000000","#ffffff"]},"legend":null}}}
 ]}
], "spacing": 0, "bounds": "flush"}
]},

{"hconcat": [
{"width":39,"height":152,"data":{"values":[{}]},"mark":{"type":"rect","opacity":0},"encoding":{}},
{"width":190,"height":152,"title":{"text":"Tunisia","dy":1},
 "encoding":{"x":{"field":"yr","type":"quantitative","scale":{"domain":[1990,1995],"nice":false,"zero":false},"axis":{"values":[1990,1991,1992,1993,1994,1995],"format":"d","title":null}},
  "y":{"field":"v","type":"quantitative","scale":{"domain":[0,19.5,68,109.4],"range":[152,76.5,76.5,0],"nice":false,"zero":false},"axis":{"values":[0,5,10,15,80,100],"title":null}}},
 "layer":[
  {"transform":[{"filter":"datum.p==='Tunisia'"}],"mark":{"type":"line","strokeWidth":1},"encoding":{"color":{"field":"s","type":"nominal","scale":{"domain":["im","id","em","ed"],"range":["#000000","#c4c4c4","#808080","#dedede"]},"legend":null}}},
  {"transform":[{"filter":"datum.p==='Tunisia'"}],"mark":{"type":"point","filled":true,"size":140,"stroke":"#000","strokeWidth":1,"opacity":1},"encoding":{"shape":{"field":"s","type":"nominal","scale":{"domain":["im","id","em","ed"],"range":["circle","circle","triangle-down","triangle-down"]},"legend":null},"fill":{"field":"s","type":"nominal","scale":{"domain":["im","id","em","ed"],"range":["#000000","#ffffff","#000000","#ffffff"]},"legend":null}}},
  {"data":{"values":[{"yr":1990,"v":40}]},"mark":{"type":"text","text":"≈","fontSize":21,"fill":"#000","baseline":"middle","align":"center"}}
 ]},
{"width":54,"height":152,"data":{"values":[{}]},"mark":{"type":"rect","opacity":0},"encoding":{}},
{"width":190,"height":152,"title":{"text":"Saudi Arabia","dy":4},
 "encoding":{"x":{"field":"yr","type":"quantitative","scale":{"domain":[1990,1995],"nice":false,"zero":false},"axis":{"values":[1990,1991,1992,1993,1994,1995],"format":"d","title":null}},
  "y":{"field":"v","type":"quantitative","scale":{"domain":[0,30],"nice":false,"zero":false},"axis":{"values":[0,10,20,30],"title":null}}},
 "layer":[
  {"transform":[{"filter":"datum.p==='Saudi Arabia 2'"}],"mark":{"type":"line","strokeWidth":1},"encoding":{"color":{"field":"s","type":"nominal","scale":{"domain":["im","id","em","ed"],"range":["#000000","#c4c4c4","#808080","#dedede"]},"legend":null}}},
  {"transform":[{"filter":"datum.p==='Saudi Arabia 2'"}],"mark":{"type":"point","filled":true,"size":140,"stroke":"#000","strokeWidth":1,"opacity":1},"encoding":{"shape":{"field":"s","type":"nominal","scale":{"domain":["im","id","em","ed"],"range":["circle","circle","triangle-down","triangle-down"]},"legend":null},"fill":{"field":"s","type":"nominal","scale":{"domain":["im","id","em","ed"],"range":["#000000","#ffffff","#000000","#ffffff"]},"legend":null}}}
 ]},
{"width":132,"height":152,"data":{"values":[{}]},"mark":{"type":"rect","opacity":0},"encoding":{}},
{"width":183,"height":152,"title":{"text":"UAE","dy":-2},
 "encoding":{"x":{"field":"yr","type":"quantitative","scale":{"domain":[1990,1995],"nice":false,"zero":false},"axis":{"values":[1990,1991,1992,1993,1994,1995],"format":"d","title":null}},
  "y":{"field":"v","type":"quantitative","scale":{"domain":[0,18],"nice":false,"zero":false},"axis":{"values":[0,5,10,15],"title":null}}},
 "layer":[
  {"transform":[{"filter":"datum.p==='UAE'"}],"mark":{"type":"line","strokeWidth":1},"encoding":{"color":{"field":"s","type":"nominal","scale":{"domain":["im","id","em","ed"],"range":["#000000","#c4c4c4","#808080","#dedede"]},"legend":null}}},
  {"transform":[{"filter":"datum.p==='UAE'"}],"mark":{"type":"point","filled":true,"size":140,"stroke":"#000","strokeWidth":1,"opacity":1},"encoding":{"shape":{"field":"s","type":"nominal","scale":{"domain":["im","id","em","ed"],"range":["circle","circle","triangle-down","triangle-down"]},"legend":null},"fill":{"field":"s","type":"nominal","scale":{"domain":["im","id","em","ed"],"range":["#000000","#ffffff","#000000","#ffffff"]},"legend":null}}}
 ]},
{"width":92,"height":152,"data":{"values":[{}]},"mark":{"type":"rect","opacity":0},"encoding":{}},
{"width":330,"height":152,
 "data":{"values":[
  {"s":"im","label":"Imports (MT)","o":1},
  {"s":"id","label":"Imports ($ million)","o":2},
  {"s":"em","label":"Exports (MT)","o":3},
  {"s":"ed","label":"Exports ($ million)","o":4}]},
 "encoding":{"y":{"field":"o","type":"quantitative","scale":{"domain":[0.24,5.48],"reverse":true,"nice":false,"zero":false},"axis":null}},
 "layer":[
  {"mark":{"type":"rule","strokeWidth":2},"encoding":{"x":{"datum":0.182,"type":"quantitative","scale":{"domain":[0,1],"nice":false,"zero":false},"axis":null},"x2":{"datum":0.348},"color":{"field":"s","type":"nominal","scale":{"domain":["im","id","em","ed"],"range":["#000000","#c4c4c4","#808080","#dedede"]},"legend":null}}},
  {"mark":{"type":"point","filled":true,"size":140,"stroke":"#000","strokeWidth":1,"opacity":1},"encoding":{"x":{"datum":0.264,"type":"quantitative"},"shape":{"field":"s","type":"nominal","scale":{"domain":["im","id","em","ed"],"range":["circle","circle","triangle-down","triangle-down"]},"legend":null},"fill":{"field":"s","type":"nominal","scale":{"domain":["im","id","em","ed"],"range":["#000000","#ffffff","#000000","#ffffff"]},"legend":null}}},
  {"mark":{"type":"text","align":"left","baseline":"middle","fontSize":22,"fontWeight":"bold","color":"#000"},"encoding":{"x":{"datum":0.379,"type":"quantitative"},"text":{"field":"label"}}}
 ]}
], "spacing": 0, "bounds": "flush"}
],
"config": {
 "view": {"stroke": null},
 "font": "Liberation Sans",
 "axis": {"grid": false, "domainColor": "#000", "domainWidth": 1, "tickColor": "#000", "tickSize": 4, "labelColor": "#000", "labelFontSize": 13, "labelPadding": 3, "labelFlush": false, "labelOverlap": false},
 "axisX": {"labelFontSize": 12.5, "labelPadding": 5},
 "title": {"fontSize": 21, "fontWeight": "normal", "color": "#000", "offset": 7, "baseline": "bottom", "dx": 4, "frame": "group"}
}
}
